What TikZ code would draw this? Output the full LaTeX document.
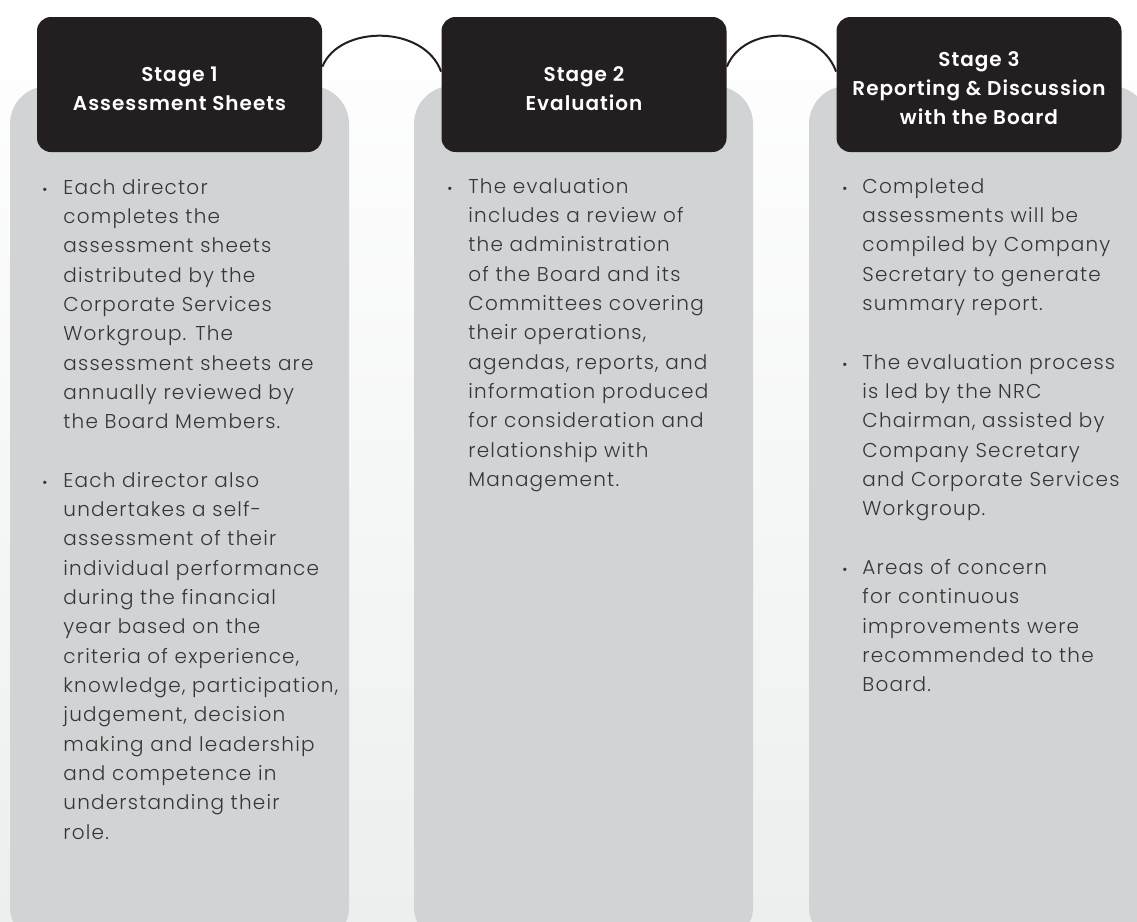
\documentclass[tikz,border=0pt]{standalone}
\usepackage{fontspec}
\setmainfont{Poppins}[UprightFont=* Light, BoldFont=* SemiBold]
\newfontfamily\bodyfont{Poppins Light}[LetterSpace=6]
\newfontfamily\headfont{Poppins SemiBold}[LetterSpace=5]
\usetikzlibrary{calc}
\definecolor{boxblack}{HTML}{231F20}
\definecolor{panelgray}{HTML}{D1D3D4}
\definecolor{bodytext}{HTML}{363636}
\definecolor{bgbottom}{HTML}{EDEFEF}
\newcommand\bodylines[1]{\parbox[t]{150pt}{\raggedright #1}}

\begin{document}
\begin{tikzpicture}[x=0.5pt,y=-0.5pt,
  panel/.style={fill=panelgray, rounded corners=19pt},
  stagebox/.style={fill=boxblack, rounded corners=7pt, minimum width=142.5pt, minimum height=67.5pt, inner sep=0pt},
  stagetitle/.style={inner sep=0pt, text=white, align=center, font=\headfont\fontsize{10}{14.5}\selectfont},
  bodytxt/.style={anchor=base west, inner sep=0pt, text=bodytext, font=\bodyfont\fontsize{10}{14.675}\selectfont},
  dot/.style={anchor=base west, inner sep=0pt, text=bodytext, font=\fontsize{7}{7}\selectfont},
  link/.style={line width=1pt, boxblack}]
\useasboundingbox (0,0) rectangle (1137,922);
\shade[top color=white, bottom color=bgbottom] (0,0) rectangle (1137,922);

\begin{scope}
\clip (0,0) rectangle (1137,922);
\fill[panel] (10,86) rectangle (349,945);
\fill[panel] (414,86) rectangle (753,945);
\fill[panel] (809,86) rectangle (1149,945);
\end{scope}

\node[stagebox] (s1) at (179.5,84.5) {};
\node[stagebox] (s2) at (584,84.5) {};
\node[stagebox] (s3) at (979,84.5) {};
\node[stagetitle] (t1) at ($(s1)+(0,4)$) {Stage 1\\Assessment Sheets};
\node[stagetitle] (t2) at ($(s2)+(0,4)$) {Stage 2\\Evaluation};
\node[stagetitle] (t3) at ($(s3)+(0,4)$) {Stage 3\\Reporting \& Discussion\\with the Board};

\draw[link] ($(s1.north east)+(0,50)$) .. controls +(17,-42) and +(-17,-47) .. ($(s2.north west)+(0,55)$);
\draw[link] ($(s2.north east)+(0,50)$) .. controls +(17,-42) and +(-17,-47) .. ($(s3.north west)+(0,55)$);

\node[dot] (d1a) at (42,194) {\textbullet};
\node[bodytxt] (p1a) at (63,194) {\bodylines{Each director\\completes the\\assessment sheets\\distributed by the\\Corporate Services\\Workgroup. The\\assessment sheets are\\annually reviewed by\\the Board Members.}};
\node[dot] (d1b) at (42,487) {\textbullet};
\node[bodytxt] (p1b) at (63,487) {\bodylines{Each director also\\undertakes a self-\\assessment of their\\individual performance\\during the financial\\year based on the\\criteria of experience,\\knowledge, participation,\\judgement, decision\\making and leadership\\and competence in\\understanding their\\role.}};

\node[dot] (d2a) at (447,193) {\textbullet};
\node[bodytxt] (p2a) at (468,193) {\bodylines{The evaluation\\includes a review of\\the administration\\of the Board and its\\Committees covering\\their operations,\\agendas, reports, and\\information produced\\for consideration and\\relationship with\\Management.}};

\node[dot] (d3a) at (842,193) {\textbullet};
\node[bodytxt] (p3a) at (862,193) {\bodylines{Completed\\assessments will be\\compiled by Company\\Secretary to generate\\summary report.}};
\node[dot] (d3b) at (842,369) {\textbullet};
\node[bodytxt] (p3b) at (862,369) {\bodylines{The evaluation process\\is led by the NRC\\Chairman, assisted by\\Company Secretary\\and Corporate Services\\Workgroup.}};
\node[dot] (d3c) at (842,574.5) {\textbullet};
\node[bodytxt] (p3c) at (862,574.5) {\bodylines{Areas of concern\\for continuous\\improvements were\\recommended to the\\Board.}};
\end{tikzpicture}
\end{document}
